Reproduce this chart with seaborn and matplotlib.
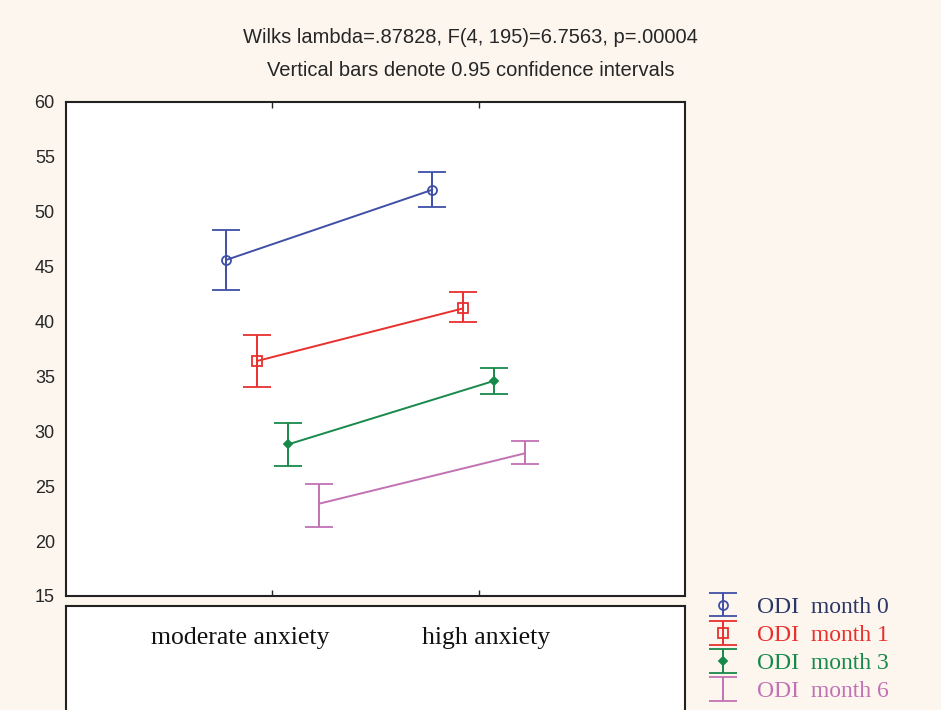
import numpy as np
import pandas as pd
import seaborn as sns
import matplotlib.pyplot as plt

# group means and 0.95 CI limits
groups = ['moderate anxiety', 'high anxiety']
series = ['ODI  month 0', 'ODI  month 1', 'ODI  month 3', 'ODI  month 6']
means = {
    'ODI  month 0': [45.6, 52.0],
    'ODI  month 1': [36.4, 41.2],
    'ODI  month 3': [28.8, 34.6],
    'ODI  month 6': [23.4, 28.0],
}
ci_low = {
    'ODI  month 0': [42.9, 50.4],
    'ODI  month 1': [34.0, 40.0],
    'ODI  month 3': [26.8, 33.4],
    'ODI  month 6': [21.3, 27.0],
}
ci_high = {
    'ODI  month 0': [48.3, 53.6],
    'ODI  month 1': [38.8, 42.7],
    'ODI  month 3': [30.8, 35.8],
    'ODI  month 6': [25.2, 29.1],
}
yticks = [15, 20, 25, 30, 35, 40, 45, 50, 55, 60]

colors = ['#3f4fa6', '#e8302e', '#17894a', '#c272b4']
markers = ['o', 's', 'D', 'none']
mfc = ['none', 'none', None, 'none']
msize = [6.5, 6.5, 4.5, 0]
offsets = [-0.225, -0.075, 0.075, 0.225]

rows = []
for s in series:
    for i, g in enumerate(groups):
        rows.append({'series': s, 'group': g, 'gi': i,
                     'mean': means[s][i], 'lo': ci_low[s][i], 'hi': ci_high[s][i]})
df = pd.DataFrame(rows)

sns.set_style('white')
plt.rcParams['font.family'] = ['Liberation Sans', 'DejaVu Sans']

fig = plt.figure(figsize=(9.41, 7.10), dpi=100)
fig.patch.set_facecolor('#fcf6ee')
ax = fig.add_axes([0.0701, 0.1606, 0.658, 0.6958])
ax.set_facecolor('white')

handles = []
for k, s in enumerate(series):
    d = df[df['series'] == s].copy()
    d['x'] = d['gi'] + offsets[k]
    sns.lineplot(data=d, x='x', y='mean', ax=ax, color=colors[k], lw=1.4,
                 legend=False, sort=False)
    eb = ax.errorbar(d['x'], d['mean'],
                     yerr=[d['mean'] - d['lo'], d['hi'] - d['mean']],
                     fmt=markers[k] if markers[k] != 'none' else 'none',
                     color=colors[k], ecolor=colors[k], elinewidth=1.4,
                     capsize=10, capthick=1.4, ms=msize[k],
                     mfc=mfc[k] if mfc[k] else colors[k], mec=colors[k], mew=1.3,
                     label=s)
    handles.append(eb)

ax.set_xlim(-1, 2)
ax.set_ylim(15, 60)
ax.set_yticks(yticks)
ax.set_xticks([0, 1])
ax.set_xticklabels([])
ax.set_xlabel('')
ax.set_ylabel('')
ax.tick_params(axis='y', labelsize=13, length=0, pad=8)
ax.tick_params(axis='x', direction='in', length=4, top=True, bottom=True, width=1)
for sp in ax.spines.values():
    sp.set_visible(True)
    sp.set_color('#222222')
    sp.set_linewidth(1.5)

fig.text(0.5, 0.9465, 'Wilks lambda=.87828, F(4, 195)=6.7563, p=.00004',
         ha='center', va='center', fontsize=14.5)
fig.text(0.5, 0.9014, 'Vertical bars denote 0.95 confidence intervals',
         ha='center', va='center', fontsize=14.5)

# lower box with the category names
bx = fig.add_axes([0.0701, -0.06, 0.658, 0.2065])
bx.set_facecolor('white')
bx.set_xticks([])
bx.set_yticks([])
for sp in bx.spines.values():
    sp.set_color('#222222')
    sp.set_linewidth(1.5)
for g, xp in zip(groups, [0.255, 0.5165]):
    fig.text(xp, 0.1014, g, ha='center', va='center', fontsize=18.5,
             family=['Liberation Serif', 'DejaVu Serif'], color='#111111')

leg = fig.legend(handles=handles, labels=series, loc='upper left',
                 bbox_to_anchor=(0.746, 0.16), frameon=False,
                 prop={'family': ['Liberation Serif', 'DejaVu Serif'], 'size': 17},
                 handlelength=1.8, handletextpad=0.55, labelspacing=0.28,
                 borderpad=0, borderaxespad=0)
text_colors = ['#2b3566', colors[1], colors[2], colors[3]]
for t, c in zip(leg.get_texts(), text_colors):
    t.set_color(c)

fig.savefig('out.png', dpi=100, facecolor=fig.get_facecolor())
